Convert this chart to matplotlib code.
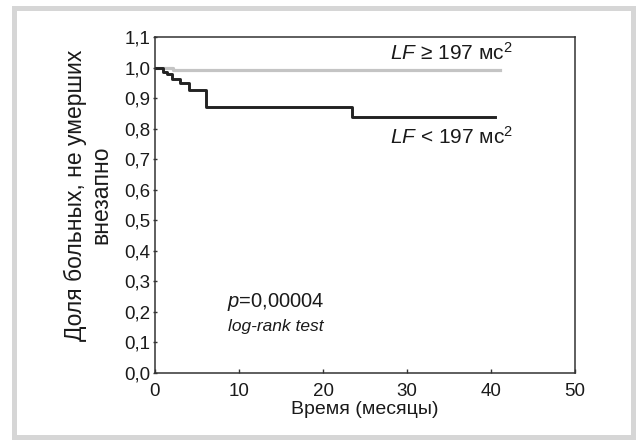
import matplotlib
matplotlib.use('Agg')
import matplotlib.pyplot as plt
from matplotlib.patches import Rectangle

plt.rcParams['font.family'] = ['Liberation Sans', 'DejaVu Sans']
plt.rcParams['mathtext.fontset'] = 'custom'
plt.rcParams['mathtext.rm'] = 'Liberation Sans'
plt.rcParams['mathtext.it'] = 'Liberation Sans:italic'

# Kaplan-Meier curves (months, share survived)
low_times = [0, 0.9, 1.4, 2.0, 3.0, 4.1, 6.1, 23.4, 40.5]
low_values = [1.0, 0.987, 0.978, 0.962, 0.950, 0.928, 0.870, 0.839, 0.839]
high_times = [0, 2.1, 41.1]
high_values = [1.0, 0.993, 0.993]

x_ticks = [0, 10, 20, 30, 40, 50]
y_ticks = [0.0, 0.1, 0.2, 0.3, 0.4, 0.5, 0.6, 0.7, 0.8, 0.9, 1.0, 1.1]

fig = plt.figure(figsize=(6.36, 4.40), dpi=100)

# grey frame round the chart
fig.patches.append(Rectangle((12 / 636, 0), 624 / 636, 434 / 440, transform=fig.transFigure,
                             facecolor='#d6d6d6', edgecolor='none', zorder=-10))
fig.patches.append(Rectangle((17 / 636, 5 / 440), 614 / 636, 424 / 440, transform=fig.transFigure,
                             facecolor='white', edgecolor='none', zorder=-9))

ax = fig.add_axes([155 / 636, 67 / 440, 420 / 636, 336 / 440])
ax.patch.set_alpha(0)

ax.step(high_times, high_values, where='post', color='#c4c4c4', linewidth=2.3)
ax.step(low_times, low_values, where='post', color='#222222', linewidth=2.1)

ax.set_xlim(0, 50)
ax.set_ylim(0, 1.1)
ax.set_xticks(x_ticks)
ax.set_yticks(y_ticks)
ax.set_yticklabels([('%.1f' % v).replace('.', ',') for v in y_ticks])
ax.tick_params(axis='both', labelsize=13.5, length=3, width=1, color='#333333', labelcolor='#1a1a1a')
ax.tick_params(axis='x', direction='in', pad=7)
ax.tick_params(axis='y', direction='inout', pad=2)
for s in ax.spines.values():
    s.set_color('#333333')
    s.set_linewidth(1.1)

ax.set_xlabel('Время (месяцы)', fontsize=14, labelpad=1, color='#1a1a1a')
ax.set_ylabel('Доля больных, не умерших\nвнезапно', fontsize=16.5,
              color='#1a1a1a', linespacing=1.1)
ax.yaxis.set_label_coords(-0.102, 0.53)

ax.text(42.6, 1.048, r'$LF$ ≥ 197 мс$^2$', fontsize=15, ha='right', va='center', color='#1a1a1a')
ax.text(42.6, 0.773, r'$LF$ < 197 мс$^2$', fontsize=15, ha='right', va='center', color='#1a1a1a')
ax.text(14.4, 0.232, r'$p$=0,00004', fontsize=14.5, ha='center', va='center', color='#1a1a1a')
ax.text(14.4, 0.152, 'log-rank test', fontsize=12.5, style='italic', ha='center', va='center',
        color='#1a1a1a')

plt.savefig('out.png')
